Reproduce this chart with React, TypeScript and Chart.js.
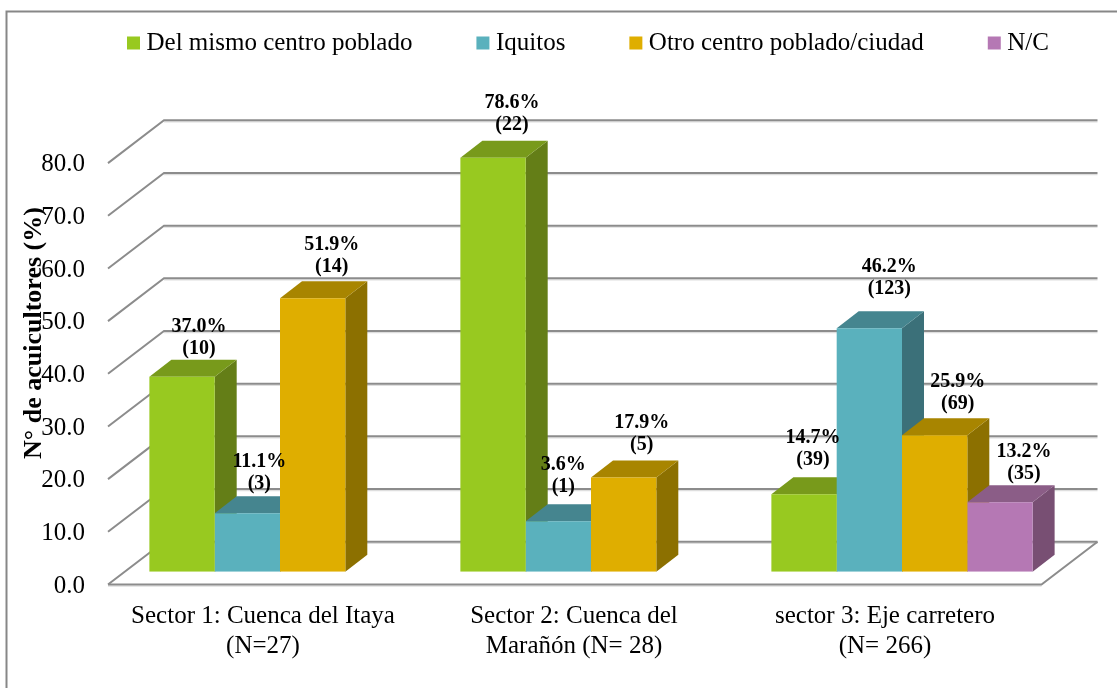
import React, { useEffect, useRef } from "react";
import { Chart, registerables } from "chart.js";

Chart.register(...registerables);

const categories = [
  ["Sector 1: Cuenca del Itaya", "(N=27)"],
  ["Sector 2: Cuenca del", "Marañón (N= 28)"],
  ["sector 3: Eje carretero", "(N= 266)"],
];
const mismoCentro = [37.0, 78.6, 14.7];
const iquitos = [11.1, 9.6, 46.2];
const otroCentro = [51.9, 17.9, 25.9];
const noContesta = [null, null, 13.2];

const mismoLabels = [["37.0%", "(10)"], ["78.6%", "(22)"], ["14.7%", "(39)"]];
const iquitosLabels = [["11.1%", "(3)"], ["3.6%", "(1)"], ["46.2%", "(123)"]];
const otroLabels = [["51.9%", "(14)"], ["17.9%", "(5)"], ["25.9%", "(69)"]];
const ncLabels = [null, null, ["13.2%", "(35)"]];

const tickValues = [0, 10, 20, 30, 40, 50, 60, 70, 80];

const FONT = "'Liberation Serif', serif";
const colors = ["#98C920", "#5AB1BD", "#DFAE00", "#B578B4"];
const topColors = ["#789A1B", "#45858F", "#A88500", "#8B5D87"];
const sideColors = ["#647E17", "#3B7079", "#8C7000", "#784F73"];
const allLabels = [mismoLabels, iquitosLabels, otroLabels, ncLabels];
// horizontal and vertical shift of each data label from the centre/top of its bar
const labelShiftX = [[17, 19, 9], [12, 5, 20], [19, 18, 23], [0, 0, 24]];
const labelShiftY = [[28, 33, 34], [29, 34, 40], [31, 33, 31], [0, 0, 28]];

const DEPTH_X = 22;
const DEPTH_Y = 17;

const threeD = {
  id: "threeD",
  afterLayout(chart: any) {
    const legend = chart.legend;
    legend.left = 63;
    legend.right = 1500;
    legend.top = -39.5;
    const y = chart.scales.y;
    if (!y.__wrapped) {
      const orig = y.drawTitle;
      y.drawTitle = function () {
        const c = this.ctx;
        c.save();
        c.translate(0, -28);
        orig.call(this);
        c.restore();
      };
      y.__wrapped = true;
    }
  },
  beforeDraw(chart: any) {
    const { ctx, width } = chart;
    ctx.save();
    ctx.strokeStyle = "#878787";
    ctx.lineWidth = 2;
    ctx.beginPath();
    ctx.moveTo(6.5, chart.height);
    ctx.lineTo(6.5, 11.5);
    ctx.lineTo(width, 11.5);
    ctx.stroke();
    ctx.restore();
  },
  beforeDatasetsDraw(chart: any) {
    const { ctx, chartArea, scales } = chart;
    const { left, right } = chartArea;
    const fx = left - 16.5, fd = 12.8, bx = left + 39.5, bd = -30, brx = right + 40;
    const line = (pts: number[][], color: string, w: number) => {
      ctx.strokeStyle = color;
      ctx.lineWidth = w;
      ctx.beginPath();
      pts.forEach((p, i) => (i ? ctx.lineTo(p[0], p[1]) : ctx.moveTo(p[0], p[1])));
      ctx.stroke();
    };
    ctx.save();
    ctx.lineJoin = "miter";
    for (const v of tickValues) {
      const y = scales.y.getPixelForValue(v);
      line([[bx, y + bd + 1.6], [brx, y + bd + 1.6]], "#DEDEDE", 1.2);
      line([[fx, y + fd], [bx, y + bd], [brx, y + bd]], "#8C8C8C", 2);
    }
    const y0 = scales.y.getPixelForValue(0);
    line([[fx, y0 + fd + 1.6], [right - 16, y0 + fd + 1.6]], "#DEDEDE", 1.2);
    line([[fx, y0 + fd], [right - 16, y0 + fd], [brx, y0 + bd]], "#8C8C8C", 2);

    chart.data.datasets.forEach((_: any, d: number) => {
      chart.getDatasetMeta(d).data.forEach((bar: any, i: number) => {
        const v = chart.data.datasets[d].data[i];
        if (v === null) return;
        const { x, y, base, width: w } = bar.getProps(["x", "y", "base", "width"], true);
        const r = x + w / 2, l = x - w / 2;
        ctx.fillStyle = sideColors[d];
        ctx.beginPath();
        ctx.moveTo(r, y);
        ctx.lineTo(r + DEPTH_X, y - DEPTH_Y);
        ctx.lineTo(r + DEPTH_X, base - DEPTH_Y);
        ctx.lineTo(r, base);
        ctx.closePath();
        ctx.fill();
        ctx.fillStyle = topColors[d];
        ctx.beginPath();
        ctx.moveTo(l, y);
        ctx.lineTo(l + DEPTH_X, y - DEPTH_Y);
        ctx.lineTo(r + DEPTH_X, y - DEPTH_Y);
        ctx.lineTo(r, y);
        ctx.closePath();
        ctx.fill();
      });
    });
    ctx.restore();
  },
  afterDatasetsDraw(chart: any) {
    const { ctx } = chart;
    ctx.save();
    ctx.fillStyle = "#000";
    ctx.textAlign = "center";
    ctx.textBaseline = "middle";
    ctx.font = `bold 20px ${FONT}`;
    chart.data.datasets.forEach((_: any, d: number) => {
      chart.getDatasetMeta(d).data.forEach((bar: any, i: number) => {
        const lines = allLabels[d][i];
        if (!lines) return;
        const { x, y } = bar.getProps(["x", "y"], true);
        const cx = x + labelShiftX[d][i];
        const by = y - labelShiftY[d][i];
        ctx.fillText(lines[0], cx, by - 22);
        ctx.fillText(lines[1], cx, by);
      });
    });
    ctx.restore();
  },
};

export default function App() {
  const ref = useRef<HTMLCanvasElement>(null);
  useEffect(() => {
    document.body.style.margin = "0";
    const chart = new Chart(ref.current!, {
      type: "bar",
      data: {
        labels: categories,
        datasets: [
          { label: "Del mismo centro poblado", data: mismoCentro, backgroundColor: colors[0] },
          { label: "Iquitos", data: iquitos, backgroundColor: colors[1] },
          { label: "Otro centro poblado/ciudad", data: otroCentro, backgroundColor: colors[2] },
          { label: "N/C", data: noContesta, backgroundColor: colors[3] },
        ],
      },
      options: {
        responsive: false,
        animation: false,
        layout: { padding: { left: 0, right: 59.5, top: 45.3, bottom: 0 } },
        datasets: { bar: { barPercentage: 1, categoryPercentage: 0.84 } },
        plugins: {
          tooltip: { enabled: false },
          legend: {
            position: "top",
            align: "start",
            labels: {
              color: "#000",
              font: { family: FONT, size: 25 },
              boxWidth: 1,
              boxHeight: 1,
              padding: 70,
              generateLabels: (c: any) =>
                Chart.defaults.plugins.legend.labels.generateLabels(c).map((it: any) => ({
                  ...it,
                  strokeStyle: it.fillStyle,
                  lineWidth: 12,
                })),
            },
          },
        },
        scales: {
          x: {
            grid: { display: false, drawTicks: false },
            border: { display: false },
            afterFit: (s: any) => {
              s.height = 688 - 571.7;
            },
            ticks: {
              color: "#000",
              font: { family: FONT, size: 25 },
              padding: 30,
              labelOffset: -17,
              maxRotation: 0,
              autoSkip: false,
            },
          },
          y: {
            min: 0,
            max: 80,
            afterFit: (s: any) => {
              s.width = 124.5;
            },
            grid: { display: false, drawTicks: false },
            border: { display: false },
            ticks: {
              color: "#000",
              font: { family: FONT, size: 25 },
              stepSize: 10,
              padding: 39.5,
              labelOffset: 14.5,
              callback: (v: any) => Number(v).toFixed(1),
            },
            title: {
              display: true,
              text: "N° de acuicultores (%)",
              color: "#000",
              font: { family: FONT, size: 26, weight: "bold" },
              padding: { top: 19, bottom: 0 },
            },
          },
        },
      },
      plugins: [threeD],
    } as any);
    return () => chart.destroy();
  }, []);
  return <canvas ref={ref} width={1117} height={688} style={{ display: "block" }} />;
}
